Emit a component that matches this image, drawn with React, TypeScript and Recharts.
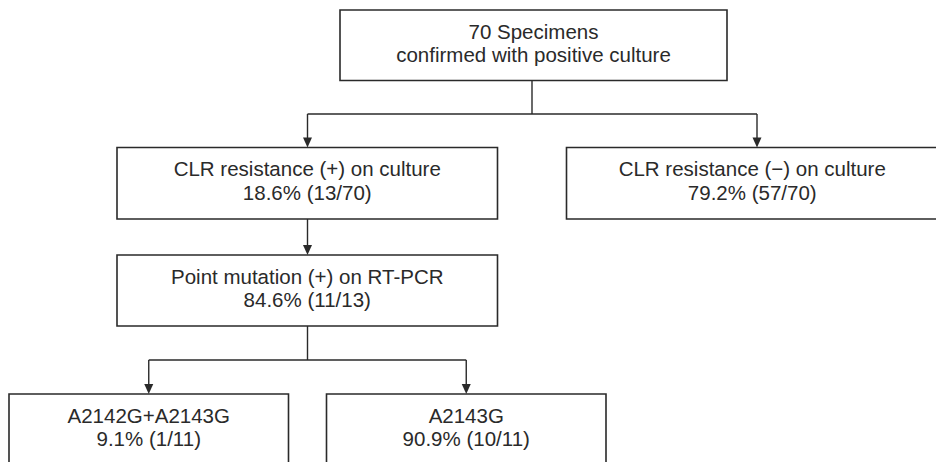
import { ReferenceArea, ReferenceLine, Scatter, ScatterChart, XAxis, YAxis } from "recharts";

// flowchart content
const nodeNames = [
  "70 Specimens",
  "CLR resistance (+) on culture",
  "CLR resistance (\u2212) on culture",
  "Point mutation (+) on RT-PCR",
  "A2142G+A2143G",
  "A2143G"
];
const rootNote = "confirmed with positive culture";
const nodeCounts = [70, 13, 57, 11, 1, 10];
const nodeTotals = [0, 70, 70, 13, 11, 11];
const nodePercents = [0, 18.6, 79.2, 84.6, 9.1, 90.9];
const nodeParents = [-1, 0, 0, 1, 3, 3];

// box layout in chart units (x 0..936, y 0..462 top-down)
const boxLayout = [
  { x1: 340, x2: 727, y1: 10, y2: 80.5, port: 532 },
  { x1: 117, x2: 497.5, y1: 147.5, y2: 219, port: 307.5 },
  { x1: 566.5, x2: 940, y1: 147.5, y2: 219, port: 757 },
  { x1: 117, x2: 497.5, y1: 255, y2: 326, port: 307.5 },
  { x1: 9, x2: 288.5, y1: 394, y2: 480, port: 148.75 },
  { x1: 326.5, x2: 606, y1: 394, y2: 480, port: 466.25 }
];

const W = 936;
const H = 462;
const ink = "#2a2a2a";
const font = "'Liberation Sans', Arial, Helvetica, sans-serif";

type Seg = { x1: number; y1: number; x2: number; y2: number };

function buildConnectors() {
  const segs: Seg[] = [];
  const tips: { x: number; y: number }[] = [];
  const parents = Array.from(new Set(nodeParents.filter((p) => p >= 0)));
  for (const p of parents) {
    const kids = nodeParents.map((q, i) => (q === p ? i : -1)).filter((i) => i >= 0);
    const pb = boxLayout[p];
    if (kids.length === 1) {
      const kb = boxLayout[kids[0]];
      segs.push({ x1: pb.port, y1: pb.y2, x2: kb.port, y2: kb.y1 - 8 });
      tips.push({ x: kb.port, y: kb.y1 });
      continue;
    }
    const top = Math.min(...kids.map((k) => boxLayout[k].y1));
    const midY = (pb.y2 + top) / 2;
    segs.push({ x1: pb.port, y1: pb.y2, x2: pb.port, y2: midY });
    const xs = kids.map((k) => boxLayout[k].port);
    segs.push({ x1: Math.min(...xs), y1: midY, x2: Math.max(...xs), y2: midY });
    for (const k of kids) {
      const kb = boxLayout[k];
      segs.push({ x1: kb.port, y1: midY, x2: kb.port, y2: kb.y1 - 8 });
      tips.push({ x: kb.port, y: kb.y1 });
    }
  }
  return { segs, tips };
}

const labelPoints = nodeNames.map((name, i) => ({
  x: (boxLayout[i].x1 + Math.min(boxLayout[i].x2, 938)) / 2,
  y: boxLayout[i].y1,
  line1: name,
  line2: i === 0 ? rootNote : `${nodePercents[i].toFixed(1)}% (${nodeCounts[i]}/${nodeTotals[i]})`
}));

function Arrow(props: any) {
  const { cx, cy } = props;
  return <path d={`M${cx - 4.5},${cy - 10} L${cx + 4.5},${cy - 10} L${cx},${cy} Z`} fill={ink} />;
}

function BoxText(props: any) {
  const { cx, cy, payload } = props;
  return (
    <g>
      <text x={cx} y={cy + 28.5} textAnchor="middle" fontFamily={font} fontSize={20.5} fill={ink}>
        {payload.line1}
      </text>
      <text x={cx} y={cy + 52} textAnchor="middle" fontFamily={font} fontSize={20.5} fill={ink}>
        {payload.line2}
      </text>
    </g>
  );
}

export default function App() {
  const { segs, tips } = buildConnectors();
  return (
    <div style={{ width: W, height: H, background: "#fff" }}>
      <style>{"body{margin:0;background:#fff}"}</style>
      <ScatterChart width={W} height={H} margin={{ top: 0, right: 0, bottom: 0, left: 0 }}>
        <XAxis type="number" dataKey="x" domain={[0, W]} allowDataOverflow hide />
        <YAxis type="number" dataKey="y" domain={[0, H]} allowDataOverflow reversed hide />
        {boxLayout.map((b, i) => (
          <ReferenceArea
            key={`box-${i}`}
            x1={b.x1}
            x2={b.x2}
            y1={b.y1}
            y2={b.y2}
            ifOverflow="visible"
            fill="none"
            stroke={ink}
            strokeWidth={1.6}
          />
        ))}
        {segs.map((s, i) => (
          <ReferenceLine
            key={`seg-${i}`}
            segment={[
              { x: s.x1, y: s.y1 },
              { x: s.x2, y: s.y2 }
            ]}
            ifOverflow="visible"
            stroke={ink}
            strokeWidth={1.4}
          />
        ))}
        <Scatter data={tips} shape={<Arrow />} isAnimationActive={false} />
        <Scatter data={labelPoints} shape={<BoxText />} isAnimationActive={false} />
      </ScatterChart>
    </div>
  );
}
